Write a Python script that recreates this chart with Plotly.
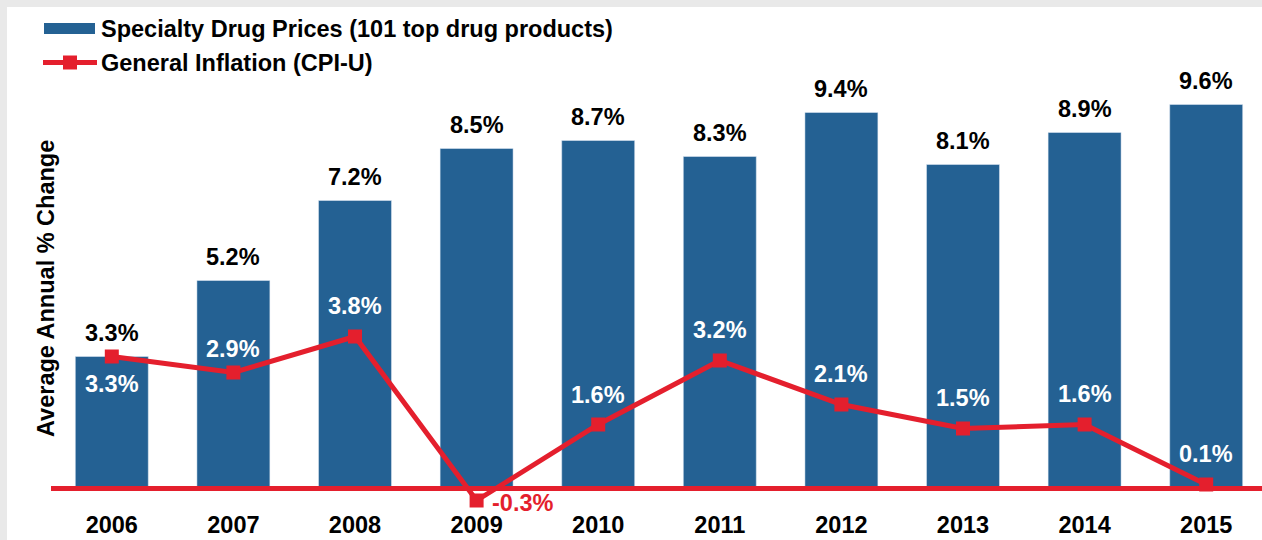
import plotly.graph_objects as go

years = ["2006", "2007", "2008", "2009", "2010", "2011", "2012", "2013", "2014", "2015"]
specialty = [3.3, 5.2, 7.2, 8.5, 8.7, 8.3, 9.4, 8.1, 8.9, 9.6]
cpi = [3.3, 2.9, 3.8, -0.3, 1.6, 3.2, 2.1, 1.5, 1.6, 0.1]
series_names = ["Specialty Drug Prices (101 top drug products)", "General Inflation (CPI-U)"]
y_title = "Average Annual % Change"

BLUE = "#246193"
RED = "#e41f2d"
GRAY = "#e9e9e9"
FONT = "Liberation Sans, Arial, sans-serif"
FS = 23.5

W, H = 1262, 540
L, R, T, B = 51, 0, 7, 32
PW, PH = W - L - R, H - T - B
ZERO_PX = 488.5
PX_PER_UNIT = 40.0

# vertical offsets (px) of CPI labels from their markers
cpi_label_shift = [-27, 24, 31, 0, 30, 31, 31, 31, 31, 31]


def px2x(px):
    return (px - L) / PW


def px2y(py):
    return (H - B - py) / PH


fig = go.Figure()
fig.add_trace(go.Bar(x=years, y=specialty, name=series_names[0], marker=dict(color=BLUE),
                     showlegend=False))
fig.add_trace(go.Scatter(x=years, y=cpi, name=series_names[1], mode="lines+markers",
                         line=dict(color=RED, width=5),
                         marker=dict(symbol="square", size=14, color=RED),
                         cliponaxis=False, showlegend=False))

annotations = []
# bar labels
for i, v in enumerate(specialty):
    annotations.append(dict(x=i, y=v, xref="x", yref="y", text=f"{v:.1f}%", showarrow=False,
                            yanchor="middle", yshift=24,
                            font=dict(family=FONT, size=FS, color="black", weight="bold")))
# CPI labels
for i, v in enumerate(cpi):
    if v < 0:
        annotations.append(dict(x=i, y=v, xref="x", yref="y", text=f"{v:.1f}%", showarrow=False,
                                xanchor="left", xshift=13, yanchor="middle", yshift=-2,
                                font=dict(family=FONT, size=FS, color=RED, weight="bold")))
    else:
        annotations.append(dict(x=i, y=v, xref="x", yref="y", text=f"{v:.1f}%", showarrow=False,
                                yanchor="middle", yshift=cpi_label_shift[i],
                                font=dict(family=FONT, size=FS, color="white", weight="bold")))

# y title
annotations.append(dict(x=px2x(46), y=px2y(289), xref="paper", yref="paper", text=y_title,
                        textangle=-90, showarrow=False, xanchor="center", yanchor="middle",
                        font=dict(family=FONT, size=FS, color="black", weight="bold")))
# legend texts
for name, cy in zip(series_names, [29, 63]):
    annotations.append(dict(x=px2x(99), y=px2y(cy), xref="paper", yref="paper", text=name,
                            showarrow=False, xanchor="left", yanchor="middle",
                            font=dict(family=FONT, size=FS, color="black", weight="bold")))

shapes = [
    # white panel over gray frame
    dict(type="rect", xref="paper", yref="paper", x0=px2x(7), x1=px2x(W + 2), y0=px2y(H + 2), y1=px2y(7),
         fillcolor="white", line=dict(width=0), layer="below"),
    # zero line
    dict(type="line", xref="paper", yref="y", x0=0, x1=1, y0=0, y1=0,
         line=dict(color=RED, width=5), layer="above"),
    # legend swatches
    dict(type="rect", xref="paper", yref="paper", x0=px2x(44), x1=px2x(95), y0=px2y(34), y1=px2y(23),
         fillcolor=BLUE, line=dict(width=0)),
    dict(type="line", xref="paper", yref="paper", x0=px2x(43), x1=px2x(97), y0=px2y(62.5), y1=px2y(62.5),
         line=dict(color=RED, width=5)),
    dict(type="rect", xref="paper", yref="paper", x0=px2x(63), x1=px2x(77), y0=px2y(69.5), y1=px2y(55.5),
         fillcolor=RED, line=dict(width=0)),
]

ymin = -(H - B - ZERO_PX) / PX_PER_UNIT
ymax = ymin + PH / PX_PER_UNIT

fig.update_layout(
    width=W, height=H,
    margin=dict(l=L, r=R, t=T, b=B, pad=0),
    paper_bgcolor=GRAY, plot_bgcolor="rgba(0,0,0,0)",
    bargap=0.4,
    showlegend=False,
    xaxis=dict(type="category", range=[-0.5, -0.5 + PW / 121.6], showgrid=False, zeroline=False,
               showline=False, ticks="",
               tickfont=dict(family=FONT, size=FS, color="black", weight="bold")),
    yaxis=dict(range=[ymin, ymax], showgrid=False, zeroline=False, showline=False,
               showticklabels=False, ticks=""),
    annotations=annotations,
    shapes=shapes,
)

fig.write_html("out.html", config={"displayModeBar": False},
               post_script="document.body.style.margin='0';document.body.style.padding='0';"
                           "document.documentElement.style.margin='0';")
